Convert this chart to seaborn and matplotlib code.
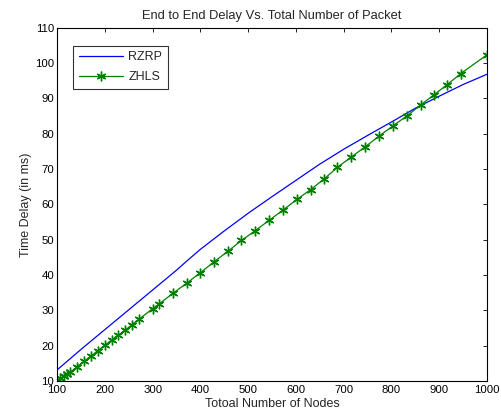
import numpy as np
import pandas as pd
import matplotlib
matplotlib.use("Agg")
import matplotlib.pyplot as plt
import seaborn as sns

# --- data ---
rzrp_nodes = [100, 150, 200, 250, 300, 350, 375, 400, 450, 500, 550, 600,
              650, 700, 750, 800, 850, 900, 950, 1000]
rzrp_delay = [13.2, 19.0, 24.6, 30.2, 35.8, 41.4, 44.4, 47.3, 52.5, 57.5, 62.2,
              66.8, 71.4, 75.6, 79.5, 83.3, 87.2, 90.6, 93.9, 96.8]

zhls_nodes = [100, 107, 114, 121, 128, 142, 156, 171, 185, 200, 214, 228, 243,
              257, 271, 300, 314, 343, 372, 400, 429, 458, 486, 515, 544, 573,
              602, 631, 659, 687, 716, 745, 774, 803, 833, 861, 889, 917, 945, 1000]
zhls_delay = [10.1, 10.8, 11.5, 12.1, 12.6, 14.1, 15.6, 17.1, 18.6, 20.2, 21.6,
              23.0, 24.5, 26.0, 27.5, 30.5, 31.9, 34.9, 37.8, 40.7, 43.8, 46.8,
              49.8, 52.6, 55.5, 58.4, 61.4, 64.2, 67.2, 70.5, 73.4, 76.3, 79.3,
              82.2, 85.1, 88.1, 91.0, 93.9, 97.0, 102.3]

x_ticks = list(range(100, 1001, 100))
y_ticks = list(range(10, 111, 10))

sns.set_style("white")
plt.rcParams['font.family'] = ['Liberation Sans', 'DejaVu Sans']
plt.rcParams['xtick.direction'] = 'in'
plt.rcParams['ytick.direction'] = 'in'

rzrp = pd.DataFrame({'nodes': rzrp_nodes, 'delay': rzrp_delay})
zhls = pd.DataFrame({'nodes': zhls_nodes, 'delay': zhls_delay})

fig = plt.figure(figsize=(5.01, 4.18), dpi=100)
ax = fig.add_axes([0.114, 0.088, 0.858, 0.846])

# MATLAB-like asterisk: six spokes
star = (6, 2, 0)

sns.lineplot(data=rzrp, x='nodes', y='delay', ax=ax, color='#0000ff',
             linewidth=0.9, label='RZRP')
sns.lineplot(data=zhls, x='nodes', y='delay', ax=ax, color='#008000',
             linewidth=0.9, marker=star, markersize=7, markeredgewidth=1.0,
             markeredgecolor='#008000', label='ZHLS')

ax.set_xlim(100, 1000)
ax.set_ylim(10, 110)
ax.set_xticks(x_ticks)
ax.set_yticks(y_ticks)
ax.tick_params(labelsize=8.2, length=3, width=0.6, top=True, right=True,
               colors='black')
ax.tick_params(axis='x', pad=3)
ax.tick_params(axis='y', pad=2)
for s in ax.spines.values():
    s.set_color('black')
    s.set_linewidth(0.8)

ax.set_title('End to End Delay Vs. Total Number of Packet', fontsize=9.3, pad=6)
ax.set_xlabel('Totoal Number of Nodes', fontsize=9, labelpad=2)
ax.set_ylabel('Time Delay (in ms)', fontsize=9, labelpad=2)

leg = ax.legend(loc='upper left', fontsize=9, frameon=True, fancybox=False,
                edgecolor='black', borderpad=0.45, handlelength=3.5,
                handletextpad=0.45, labelspacing=0.65,
                bbox_to_anchor=(0.023, 0.967))
leg.get_frame().set_linewidth(0.8)

fig.savefig('out.png', dpi=100, facecolor='white')
